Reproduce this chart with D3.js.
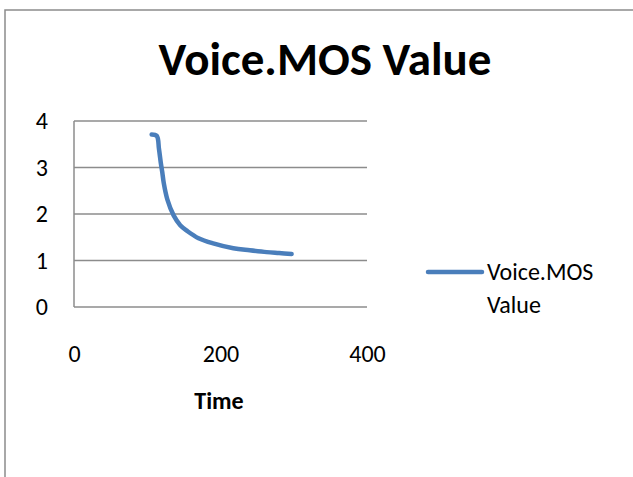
<!DOCTYPE html>
<html>
<head>
<meta charset="utf-8">
<script src="https://cdn.jsdelivr.net/npm/d3@7"></script>
<style>
  body { margin: 0; background: #fff; }
  text { font-family: Carlito, Calibri, Lato, sans-serif; fill: #000; }
</style>
</head>
<body>
<div id="chart"></div>
<script>
'use strict';

// data
var times = [106, 113, 116, 118.5, 120.5, 122.5, 127.5, 136, 145, 155, 170, 190, 217.5, 240, 263, 280, 297];
var mosValues = [3.71, 3.68, 3.4, 3.1, 2.9, 2.67, 2.31, 1.97, 1.76, 1.63, 1.48, 1.37, 1.265, 1.22, 1.18, 1.16, 1.14];
var xTicks = [0, 200, 400];
var yTicks = [0, 1, 2, 3, 4];
var seriesName = 'Voice.MOS Value';
var chartTitle = 'Voice.MOS Value';
var xLabel = 'Time';

var width = 633, height = 477;
var margins = { left: 74, top: 121, right: 266, bottom: 170 };
var plotW = width - margins.left - margins.right;
var plotH = height - margins.top - margins.bottom;

var svg = d3.select('#chart').append('svg')
  .attr('width', width)
  .attr('height', height);

// outer frame
svg.append('rect')
  .attr('x', 5).attr('y', 10)
  .attr('width', 700).attr('height', 600)
  .attr('fill', 'none')
  .attr('stroke', '#8c8c8c')
  .attr('stroke-width', 1.5);

svg.append('text')
  .attr('x', 325).attr('y', 75)
  .attr('text-anchor', 'middle')
  .style('font-size', '47px')
  .style('font-weight', 'bold')
  .text(chartTitle);

var xScale = d3.scaleLinear().domain([0, 400]).range([0, plotW]);
var yScale = d3.scaleLinear().domain([0, 4]).range([plotH, 0]);

var chart = svg.append('g')
  .attr('transform', 'translate(' + margins.left + ',' + margins.top + ')');

// gridlines
chart.selectAll('.grid')
  .data(yTicks)
  .enter()
  .append('line')
  .attr('class', 'grid')
  .attr('x1', 0).attr('x2', plotW)
  .attr('y1', function(d) { return yScale(d); })
  .attr('y2', function(d) { return yScale(d); })
  .attr('stroke', '#8c8c8c')
  .attr('stroke-width', 1.5);

chart.append('line')
  .attr('x1', 0).attr('x2', 0)
  .attr('y1', 0).attr('y2', plotH)
  .attr('stroke', '#8c8c8c')
  .attr('stroke-width', 1.5);

var yAxis = d3.axisLeft(yScale).tickValues(yTicks).tickFormat(d3.format('d')).tickSize(0).tickPadding(26);
var yAxisGroup = chart.append('g').attr('class', 'yAxis').call(yAxis);
yAxisGroup.select('.domain').remove();
yAxisGroup.selectAll('text')
  .style('font-size', '24px')
  .style('font-family', 'Carlito, Calibri, Lato, sans-serif');

var xAxis = d3.axisBottom(xScale).tickValues(xTicks).tickFormat(d3.format('d')).tickSize(0).tickPadding(38);
var xAxisGroup = chart.append('g')
  .attr('class', 'xAxis')
  .attr('transform', 'translate(0,' + plotH + ')')
  .call(xAxis);
xAxisGroup.select('.domain').remove();
xAxisGroup.selectAll('text')
  .style('font-size', '24px')
  .style('font-family', 'Carlito, Calibri, Lato, sans-serif');

svg.append('text')
  .attr('x', 219).attr('y', 409)
  .attr('text-anchor', 'middle')
  .style('font-size', '24px')
  .style('font-weight', 'bold')
  .text(xLabel);

var points = times.map(function(t, i) { return { cx: t, cy: mosValues[i] }; });

var line = d3.line()
  .x(function(d) { return xScale(d.cx); })
  .y(function(d) { return yScale(d.cy); })
  .curve(d3.curveCatmullRom.alpha(0.5));

chart.append('path')
  .datum(points)
  .attr('d', line)
  .attr('fill', 'none')
  .attr('stroke', '#4a7ebb')
  .attr('stroke-width', 4.5)
  .attr('stroke-linecap', 'round')
  .attr('stroke-linejoin', 'round');

// legend
var legend = svg.append('g').attr('class', 'legend');
legend.append('line')
  .attr('x1', 428).attr('x2', 482)
  .attr('y1', 272).attr('y2', 272)
  .attr('stroke', '#4a7ebb')
  .attr('stroke-width', 4.5)
  .attr('stroke-linecap', 'round');
var words = seriesName.split(' ');
legend.selectAll('.legend-text')
  .data(words)
  .enter()
  .append('text')
  .attr('class', 'legend-text')
  .attr('x', 487)
  .attr('y', function(d, i) { return 280 + i * 33; })
  .style('font-size', '24px')
  .text(function(d) { return d; });
</script>
</body>
</html>
